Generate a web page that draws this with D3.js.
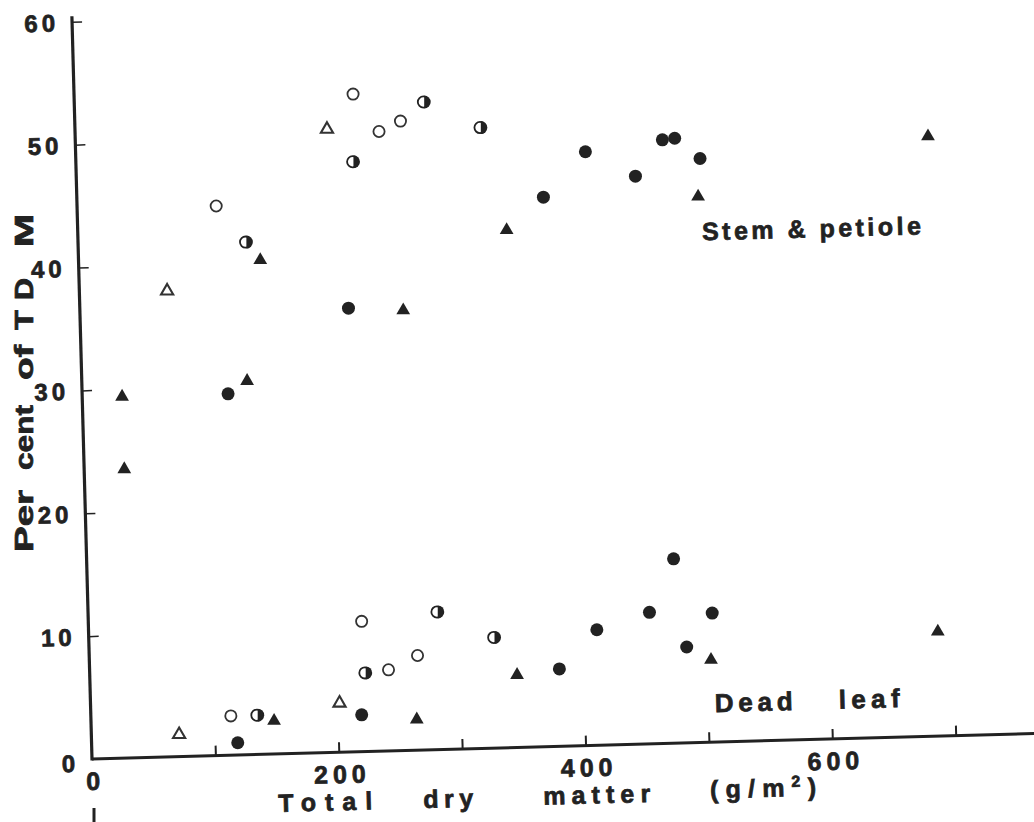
<!DOCTYPE html>
<html><head><meta charset="utf-8">
<script src="https://cdn.jsdelivr.net/npm/d3@7"></script>
<style>
body{margin:0;background:#fff}
svg{display:block;background:#fff}
text{font-family:"Liberation Sans",Arial,Helvetica,sans-serif;font-weight:bold;fill:#222;stroke:#222;stroke-width:0.7px}
</style>
</head><body>
<svg id="c" width="1034" height="822"></svg>
<script>
// ---- tick values / labels ----
const xTicks = [100, 200, 300, 400, 500, 600, 700];
const xTickLabels = [0, 200, 400, 600];
const yTicks = [10, 20, 30, 40, 50, 60];
const yTickLabels = [0, 10, 20, 30, 40, 50, 60];

// ---- Stem & petiole (% of TDM) : [total dry matter g/m2, percent] ----
const stemOpenCircle   = [[226.0,53.5],[263.8,51.2],[246.2,50.4],[112.7,44.7]];
const stemHalfCircle   = [[282.8,52.7],[328.1,50.5],[224.2,48.0],[135.7,41.7]];
const stemFilledCircle = [[217.6,36.1],[377.9,44.7],[412.9,48.3],[475.5,49.1],[485.5,49.2],[505.6,47.5],[452.9,46.2],[118.2,29.4]];
const stemOpenTriangle = [[204.1,50.7],[71.1,37.9]];
const stemFilledTriangle = [[147.2,40.2],[261.9,35.8],[347.4,42.1],[690.7,48.8],[503.2,44.4],[133.9,30.4],[32.3,29.4],[32.5,23.5]];

// ---- Dead leaf (% of TDM) ----
const deadOpenCircle   = [[221.4,10.6],[242.1,6.6],[113.4,3.2],[265.9,7.7]];
const deadHalfCircle   = [[222.9,6.4],[134.5,3.2],[282.6,11.2],[328.0,9.0]];
const deadFilledCircle = [[219.4,3.0],[118.4,1.0],[380.5,6.3],[411.7,9.4],[454.7,10.7],[505.5,10.5],[484.1,7.8],[475.4,15.0]];
const deadOpenTriangle = [[201.7,4.0],[71.1,1.8]];
const deadFilledTriangle = [[148.3,2.7],[346.1,5.9],[263.9,2.5],[503.5,6.7],[687.8,8.5]];

const ink = "#222";
const svg = d3.select("#c");

const x = d3.scaleLinear().domain([0, 700]).range([0, 864]);
const y = d3.scaleLinear().domain([0, 60]).range([0, -737.5]);

// the whole figure frame is slightly rotated, as in the scanned original
const g = svg.append("g").attr("transform", "translate(92,759) rotate(-1.55)");

// axis lines
g.append("line").attr("x1", x(0)).attr("y1", y(0)).attr("x2", x(780)).attr("y2", y(0))
  .attr("stroke", ink).attr("stroke-width", 3);
g.append("line").attr("x1", x(0)).attr("y1", y(0) + 1.5).attr("x2", x(0)).attr("y2", y(60.45))
  .attr("stroke", ink).attr("stroke-width", 3.2);

// tick marks (inside)
const xt = g.append("g").call(d3.axisBottom(x).tickValues(xTicks).tickSizeInner(-10).tickSizeOuter(0).tickFormat(""));
xt.select(".domain").remove();
xt.selectAll(".tick line").attr("stroke", ink).attr("stroke-width", 2);

const yt = g.append("g").call(d3.axisLeft(y).tickValues(yTicks).tickSizeInner(-10).tickSizeOuter(0).tickFormat(""));
yt.select(".domain").remove();
yt.selectAll(".tick line").attr("stroke", ink).attr("stroke-width", 1.5);

// tick labels
const xl = g.append("g").call(d3.axisBottom(x).tickValues(xTickLabels).tickSize(0).tickPadding(13).tickFormat(d3.format("d")));
xl.select(".domain").remove();
xl.selectAll("text").attr("font-size", 25).style("letter-spacing", "5px")
  .attr("fill", ink).attr("font-family", null).attr("dx", "2.5px");

const yl = g.append("g").call(d3.axisLeft(y).tickValues(yTickLabels).tickSize(0).tickPadding(13).tickFormat(d3.format("d")));
yl.select(".domain").remove();
yl.selectAll("text").attr("font-size", 24).style("letter-spacing", "4px")
  .attr("fill", ink).attr("font-family", null).attr("dy", "0.36em");
yl.selectAll(".tick").filter(d => d === 0).select("text").attr("dy", "0.5em");

// x-axis title words
const xTitle = [["Total", 185, 94], ["dry", 330, 50], ["matter", 450, 107]];
xTitle.forEach(([t, ux, len]) => {
  g.append("text").attr("x", ux).attr("y", 58).attr("font-size", 25)
    .attr("textLength", len).attr("lengthAdjust", "spacing").text(t);
});
const gm = g.append("text").attr("x", 617).attr("y", 56).attr("font-size", 25)
  .attr("textLength", 106).attr("lengthAdjust", "spacing");
gm.append("tspan").text("(g/m");
gm.append("tspan").attr("dy", -9).attr("font-size", 16).text("2");
gm.append("tspan").attr("dy", 9).text(")");

// series labels
g.append("text").attr("x", 624).attr("y", -502).attr("font-size", 25)
  .attr("textLength", 219).attr("lengthAdjust", "spacing").text("Stem & petiole");
g.append("text").attr("x", 624).attr("y", -30).attr("font-size", 26)
  .attr("textLength", 78).attr("lengthAdjust", "spacing").text("Dead");
g.append("text").attr("x", 748).attr("y", -30).attr("font-size", 26)
  .attr("textLength", 61).attr("lengthAdjust", "spacing").text("leaf");

// markers
const R = 6.5;
const tri = d3.symbol().type(d3.symbolTriangle).size(82);
function plot(data, kind) {
  const sel = g.append("g").selectAll("g").data(data).join("g")
    .attr("transform", d => `translate(${x(d[0])},${y(d[1])}) rotate(1.55)`);
  if (kind === "openCircle") {
    sel.append("circle").attr("r", R - 0.9).attr("fill", "#fff").attr("stroke", "#333").attr("stroke-width", 1.8);
  } else if (kind === "filledCircle") {
    sel.append("circle").attr("r", R).attr("fill", ink);
  } else if (kind === "halfCircle") {
    sel.append("circle").attr("r", R - 0.9).attr("fill", "#fff").attr("stroke", ink).attr("stroke-width", 1.8);
    sel.append("path").attr("d", `M0.8,${-R} A${R},${R} 0 0 1 0.8,${R} Z`).attr("fill", ink);
  } else if (kind === "openTriangle") {
    sel.append("path").attr("d", d3.symbol().type(d3.symbolTriangle).size(64)).attr("fill", "#fff")
      .attr("stroke", "#333").attr("stroke-width", 2.1).attr("stroke-linejoin", "miter");
  } else if (kind === "filledTriangle") {
    sel.append("path").attr("d", tri).attr("fill", ink);
  }
}
plot(stemOpenCircle, "openCircle");
plot(stemHalfCircle, "halfCircle");
plot(stemFilledCircle, "filledCircle");
plot(stemOpenTriangle, "openTriangle");
plot(stemFilledTriangle, "filledTriangle");
plot(deadOpenCircle, "openCircle");
plot(deadHalfCircle, "halfCircle");
plot(deadFilledCircle, "filledCircle");
plot(deadOpenTriangle, "openTriangle");
plot(deadFilledTriangle, "filledTriangle");

// y-axis title (vertical, reading upward)
const yTitle = [["Per", 552, 62], ["cent", 470, 65], ["of", 380, 35], ["T", 330, 20], ["D", 300, 22], ["M", 247, 33]];
yTitle.forEach(([t, py, len]) => {
  svg.append("text").attr("transform", `translate(33,${py}) rotate(-90)`).attr("font-size", 25)
    .attr("textLength", len).attr("lengthAdjust", "spacingAndGlyphs").text(t);
});

// small scan mark below the origin
svg.append("line").attr("x1", 94).attr("y1", 808).attr("x2", 94).attr("y2", 822)
  .attr("stroke", ink).attr("stroke-width", 3);
</script>
</body></html>
